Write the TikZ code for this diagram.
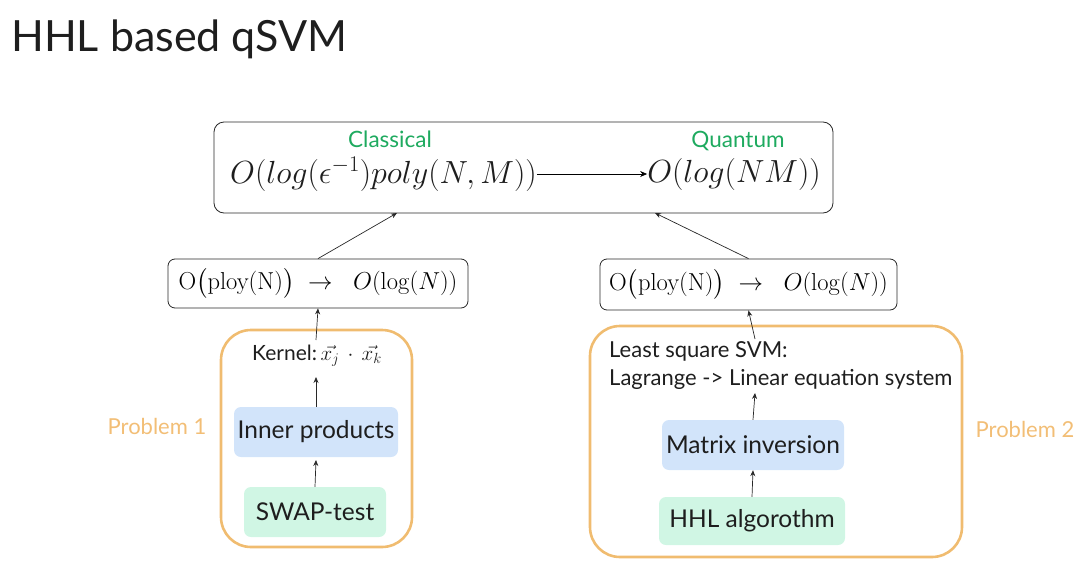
\RequirePackage{fix-cm}
\documentclass[tikz,border=0pt]{standalone}
\usepackage{amsmath}
\usepackage[no-math]{fontspec}
\setmainfont{Lato}
\usetikzlibrary{arrows.meta}
\definecolor{txt}{RGB}{30,30,30}
\definecolor{boxline}{RGB}{40,40,40}
\definecolor{probline}{RGB}{240,188,112}
\definecolor{probtxt}{RGB}{242,190,118}
\definecolor{bluefill}{RGB}{210,228,250}
\definecolor{greenfill}{RGB}{208,246,228}
\definecolor{greentxt}{RGB}{30,170,95}
\newcommand{\fs}[1]{\fontsize{#1}{#1}\selectfont}
\newcommand{\speedup}{$\mathrm{O}\bigl(\mathrm{ploy(N)}\bigr)\;\rightarrow\;\;O(\log(N))$}
\begin{document}
\begin{tikzpicture}[x=1pt,y=-1pt,
  txtnode/.style={inner sep=0pt,text=txt},
  cplx/.style={draw=boxline,line width=0.8pt,rounded corners=10pt,fill=white},
  probbox/.style={draw=probline,line width=2.6pt,rounded corners=30pt},
  bluebox/.style={fill=bluefill,rounded corners=7pt,text=txt,font=\fs{24.5}},
  greenbox/.style={fill=greenfill,rounded corners=7pt,text=txt,font=\fs{24.5}},
  link/.style={draw=boxline,line width=0.7pt,-{Stealth[length=6pt,width=5pt]}},
  probname/.style={inner sep=0pt,text=probtxt,font=\fs{22}}]
\useasboundingbox (0,0) rectangle (1085,573);

% title
\node[txtnode,anchor=west,font=\fs{43}] (title) at (11,39) {HHL based qSVM};

% complexity summary
\node[cplx,minimum width=619pt,minimum height=91pt] (top) at (523.5,167.5) {};
\node[inner sep=0pt,text=greentxt,font=\fs{22.5}] (cl) at (390,139) {Classical};
\node[inner sep=0pt,text=greentxt,font=\fs{22.5}] (qu) at (738,141) {Quantum};
\node[txtnode,anchor=west,font=\fs{32}] (cexp) at (230,174) {$O(log(\epsilon^{-1})poly(N,M))$};
\node[txtnode,anchor=east,font=\fs{32}] (qexp) at (821,174) {$O(log(NM))$};
\draw[draw=black,line width=0.8pt,-{Stealth[length=7pt,width=6pt]}] (cexp.east) -- (qexp.west);

% per-problem speedups
\node[cplx,rounded corners=7pt,minimum width=300pt,minimum height=49pt,inner sep=0pt,font=\fs{24.5}] (ml) at (318,283.5) {\speedup};
\node[cplx,rounded corners=7pt,minimum width=297pt,minimum height=51pt,inner sep=0pt,font=\fs{24.5}] (mr) at (748.5,284.5) {\speedup};
\coordinate (tl) at (397,213);
\coordinate (tr) at (655,213);
\draw[link] (ml.north) -- (tl);
\draw[link] (mr.north) -- (tr);

% problem 1
\node[probbox,minimum width=191pt,minimum height=217pt] (p1) at (316.5,438.5) {};
\node[probname] (p1n) at (157,426) {Problem 1};
\node[txtnode,font=\fs{21}] (kern) at (317,356) {Kernel:\,$\vec{x_j}\,\cdot\,\vec{x_k}$};
\node[bluebox,minimum width=164pt,minimum height=50pt] (inner) at (316,432) {Inner products};
\node[greenbox,minimum width=142pt,minimum height=50pt] (swap) at (315,512) {SWAP-test};
\draw[link] (swap.north) -- (inner.north |- 0,460);
\draw[link] (inner.north) -- (316,377);
\draw[link] (316,340) -- (ml.south);

% problem 2
\node[probbox,minimum width=372pt,minimum height=231pt] (p2) at (776,441.5) {};
\node[probname] (p2n) at (1025,429) {Problem 2};
\node[txtnode,anchor=north west,align=left,font=\fs{22}] (lssvm) at (609,341)
  {Least square SVM:\\[6pt]Lagrange -> Linear equation system};
\node[bluebox,minimum width=182pt,minimum height=50pt] (minv) at (753,445) {Matrix inversion};
\node[greenbox,minimum width=186pt,minimum height=48pt] (hhl) at (752,521) {HHL algorothm};
\coordinate (lsb) at (755,393);
\coordinate (lst) at (755,339);
\draw[link] (hhl.north) -- (minv.south);
\draw[link] (minv.north) -- (lsb);
\draw[link] (lst) -- (mr.south);
\end{tikzpicture}
\end{document}
